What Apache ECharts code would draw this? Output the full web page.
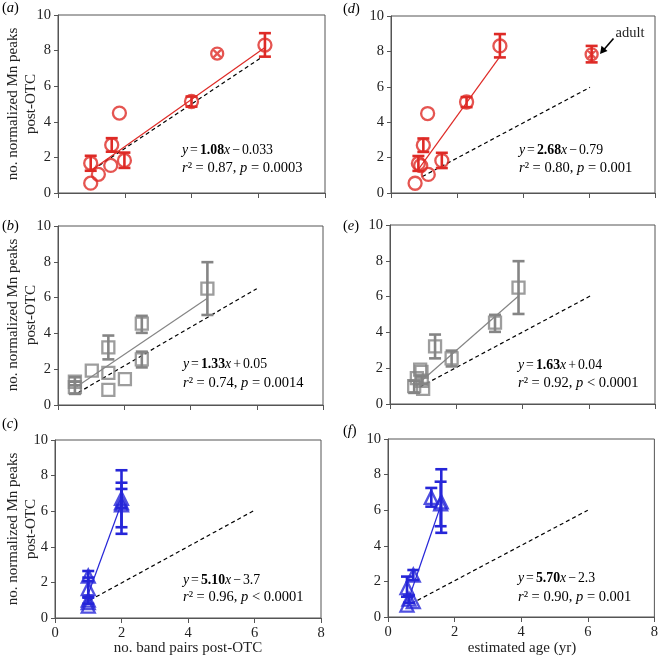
<!DOCTYPE html>
<html><head><meta charset="utf-8">
<script src="https://cdn.jsdelivr.net/npm/echarts@6/dist/echarts.min.js"></script>
<style>html,body{margin:0;padding:0;background:#fff}#c{width:661px;height:659px}</style>
</head><body><div id="c"></div>
<script>
// ---------- data ----------
const xTicks = [0, 2, 4, 6, 8];
const yTicks = [0, 2, 4, 6, 8, 10];

// red circles (panels a, d)
const redY  = [0.55, 1.67, 1.05, 1.55, 2.70, 1.83, 4.49, 5.14, 8.31];
const redLo = [null, 1.25, null, null, 2.32, 1.41, null, 4.85, 7.66];
const redHi = [null, 2.09, null, null, 3.08, 2.27, null, 5.42, 8.98];
const aX    = [0.98, 0.98, 1.21, 1.58, 1.61, 1.99, 1.84, 4.00, 6.20];
const dX    = [0.73, 0.83, 1.13, 0.90, 0.98, 1.54, 1.11, 2.29, 3.30];
const adultY = 7.83, adultLo = 7.38, adultHi = 8.31;
const adultXa = 4.77, adultXd = 6.08;
const aFit = [[1.00, 1.28], [6.20, 8.17]];
const aRef = [[1.06, 1.33], [6.10, 7.62]];
const dFit = [[0.83, 1.34], [3.30, 7.70]];
const dRef = [[0.95, 0.93], [6.03, 5.97]];

// grey squares (panels b, e)
const greyY  = [1.30, 1.00, 1.92, 3.22, 1.80, 0.84, 1.44, 2.55, 4.55, 6.50];
const greyLo = [1.10, 0.62, null, 2.55, null, null, null, 2.10, 4.03, 5.03];
const greyHi = [1.55, 1.30, null, 3.88, null, null, null, 2.98, 4.98, 7.98];
const bX     = [0.51, 0.51, 1.02, 1.52, 1.52, 1.52, 2.02, 2.53, 2.53, 4.51];
const eX     = [0.96, 0.73, 0.91, 1.36, 0.95, 1.00, 0.81, 1.86, 3.17, 3.88];
const bFit = [[0.56, 1.02], [4.51, 5.96]];
const bRef = [[0.61, 0.69], [6.00, 6.50]];
const eFit = [[0.80, 1.05], [3.88, 6.03]];
const eRef = [[0.90, 0.95], [6.05, 6.04]];

// blue triangles (panels c, f)
const blueY  = [2.36, 1.65, 1.00, 0.86, 0.67, 6.72, 6.47, 6.35];
const blueLo = [2.08, 1.14, 0.80, null, null, 6.20, 4.73, 5.10];
const blueHi = [2.64, 2.27, 1.20, null, null, 7.25, 8.30, 7.60];
const cX     = [1, 1, 1, 1, 1, 2, 2, 2];
const fX     = [0.76, 0.57, 0.63, 0.76, 0.57, 1.30, 1.60, 1.58];
const cFit = [[1.00, 1.35], [2.00, 6.45]];
const cRef = [[1.05, 1.00], [6.00, 6.05]];
const fFit = [[0.60, 0.90], [1.60, 6.35]];
const fRef = [[0.70, 0.75], [6.00, 6.00]];

const eqText = {
  a: ['1.08', '−', '0.033', '0.87', '= 0.0003'],
  d: ['2.68', '−', '0.79',  '0.80', '= 0.001'],
  b: ['1.33', '+', '0.05',  '0.74', '= 0.0014'],
  e: ['1.63', '+', '0.04',  '0.92', '< 0.0001'],
  c: ['5.10', '−', '3.7',   '0.96', '< 0.0001'],
  f: ['5.70', '−', '2.3',   '0.90', '= 0.001']
};
const yTitle = 'no. normalized Mn peaks\npost-OTC';
const xTitleLeft = 'no. band pairs post-OTC';
const xTitleRight = 'estimated age (yr)';

// ---------- layout ----------
const FONT = 'Liberation Serif';
const RED = '#de2a26', GREY = '#858585', BLUE = '#2626d8';
const grids = [
  {left: 58,  top: 15,  width: 267, height: 178}, // a
  {left: 391, top: 16,  width: 264, height: 177}, // d
  {left: 58,  top: 226, width: 265, height: 179}, // b
  {left: 390, top: 225, width: 265, height: 179}, // e
  {left: 55,  top: 440, width: 266, height: 178}, // c
  {left: 388, top: 439, width: 268, height: 178}  // f
];

const xAxes = grids.map((g, i) => ({
  type: 'value', gridIndex: i, min: xTicks[0], max: xTicks[xTicks.length - 1], interval: 2,
  axisLine: {show: true, lineStyle: {color: '#555', width: 1}},
  axisTick: {show: true, inside: false, length: 5, lineStyle: {color: '#555'}},
  splitLine: {show: false},
  axisLabel: {show: i >= 4, fontFamily: FONT, fontSize: 14.5, color: '#222', margin: 8}
}));
const yAxes = grids.map((g, i) => ({
  type: 'value', gridIndex: i, min: yTicks[0], max: yTicks[yTicks.length - 1], interval: 2,
  axisLine: {show: true, lineStyle: {color: '#555', width: 1}},
  axisTick: {show: true, inside: false, length: 4, lineStyle: {color: '#555'}},
  splitLine: {show: false},
  axisLabel: {show: true, fontFamily: FONT, fontSize: 14.5, color: '#222', margin: 7}
}));

function zip(xs, ys) { return xs.map((x, k) => [x, ys[k]]); }
function errData(xs, lo, hi) {
  const out = [];
  xs.forEach((x, k) => { if (lo[k] != null) out.push([x, lo[k], hi[k]]); });
  return out;
}
function errSeries(idx, data, color) {
  return {
    type: 'custom', xAxisIndex: idx, yAxisIndex: idx, data: data, z: 3,
    encode: {x: 0, y: [1, 2]},
    renderItem: function (params, api) {
      const x = api.value(0);
      const p1 = api.coord([x, api.value(1)]);
      const p2 = api.coord([x, api.value(2)]);
      const w = 6;
      const st = {stroke: color, lineWidth: 2.6};
      return {type: 'group', children: [
        {type: 'line', shape: {x1: p1[0], y1: p1[1], x2: p2[0], y2: p2[1]}, style: st},
        {type: 'line', shape: {x1: p1[0] - w, y1: p1[1], x2: p1[0] + w, y2: p1[1]}, style: st},
        {type: 'line', shape: {x1: p2[0] - w, y1: p2[1], x2: p2[0] + w, y2: p2[1]}, style: st}
      ]};
    }
  };
}
function markerSeries(idx, data, color, symbol, size) {
  return {
    type: 'scatter', xAxisIndex: idx, yAxisIndex: idx, data: data, symbol: symbol, symbolSize: size, z: 4,
    itemStyle: {color: 'rgba(0,0,0,0)', borderColor: color, borderWidth: 2.3}
  };
}
function lineSeries(idx, data, color, dashed) {
  return {
    type: 'line', xAxisIndex: idx, yAxisIndex: idx, data: data, symbol: 'none', z: 2,
    lineStyle: {color: color, width: 1.2, type: dashed ? [4, 3] : 'solid'}
  };
}
const CROSS = 'path://M0,-10A10,10 0 1,1 0,10A10,10 0 1,1 0,-10M-7,-7L7,7M7,-7L-7,7';

const series = [
  // a
  lineSeries(0, aRef, '#000', true), lineSeries(0, aFit, RED, false),
  errSeries(0, errData(aX, redLo, redHi), RED), markerSeries(0, zip(aX, redY), RED, 'circle', 13),
  markerSeries(0, [[adultXa, adultY]], RED, CROSS, 12),
  // d
  lineSeries(1, dRef, '#000', true), lineSeries(1, dFit, RED, false),
  errSeries(1, errData(dX, redLo, redHi).concat([[adultXd, adultLo, adultHi]]), RED),
  markerSeries(1, zip(dX, redY), RED, 'circle', 13),
  markerSeries(1, [[adultXd, adultY]], RED, CROSS, 12),
  // b
  lineSeries(2, bRef, '#000', true), lineSeries(2, bFit, GREY, false),
  errSeries(2, errData(bX, greyLo, greyHi), GREY), markerSeries(2, zip(bX, greyY), GREY, 'rect', 12),
  // e
  lineSeries(3, eRef, '#000', true), lineSeries(3, eFit, GREY, false),
  errSeries(3, errData(eX, greyLo, greyHi), GREY), markerSeries(3, zip(eX, greyY), GREY, 'rect', 12),
  // c
  lineSeries(4, cRef, '#000', true), lineSeries(4, cFit, BLUE, false),
  errSeries(4, errData(cX, blueLo, blueHi), BLUE), markerSeries(4, zip(cX, blueY), BLUE, 'triangle', 13),
  // f
  lineSeries(5, fRef, '#000', true), lineSeries(5, fFit, BLUE, false),
  errSeries(5, errData(fX, blueLo, blueHi), BLUE), markerSeries(5, zip(fX, blueY), BLUE, 'triangle', 13)
];

// ---------- text ----------
const rich = {
  n: {fontFamily: FONT, fontSize: 14.5, color: '#222'},
  i: {fontFamily: FONT, fontSize: 14.5, color: '#222', fontStyle: 'italic'},
  b: {fontFamily: FONT, fontSize: 14.5, color: '#222', fontWeight: 'bold'},
  n1: {fontFamily: FONT, fontSize: 13.8, color: '#222'},
  i1: {fontFamily: FONT, fontSize: 13.8, color: '#222', fontStyle: 'italic'},
  b1: {fontFamily: FONT, fontSize: 13.8, color: '#222', fontWeight: 'bold'},
  op: {fontFamily: FONT, fontSize: 13.8, color: '#222', padding: [0, 2, 0, 2]}
};
function eqGraphic(key, x, y1, y2) {
  const t = eqText[key];
  return [
    {type: 'text', left: x, top: y1, style: {
      text: '{i1|y}{op|=}{b1|' + t[0] + '}{i1|x}{op|' + t[1] + '}{n1|' + t[2] + '}', rich: rich}},
    {type: 'text', left: x, top: y2, style: {text: '{i|r}{n|² = ' + t[3] + ', }{i|p}{n| ' + t[4] + '}', rich: rich}}
  ];
}
function panelLabel(letter, x, y) {
  return {type: 'text', left: x, top: y, style: {text: '{n|(}{i|' + letter + '}{n|)}', rich: rich}};
}
function yTitleG(cy) {
  return {type: 'text', x: 22, y: cy, rotation: Math.PI / 2,
    style: {text: yTitle, fontFamily: FONT, fontSize: 15, fill: '#222', align: 'center', verticalAlign: 'middle', lineHeight: 18}};
}

const graphic = [].concat(
  eqGraphic('a', 182, 143, 161), eqGraphic('d', 519, 143, 161),
  eqGraphic('b', 183, 357, 376), eqGraphic('e', 518, 358, 376),
  eqGraphic('c', 183, 573, 590), eqGraphic('f', 518, 571, 590),
  [
    panelLabel('a', 2, 1), panelLabel('d', 343, 2),
    panelLabel('b', 2, 219), panelLabel('e', 343, 219),
    panelLabel('c', 2, 417), panelLabel('f', 343, 424),
    yTitleG(104), yTitleG(315), yTitleG(529),
    {type: 'text', x: 188, y: 648, style: {text: xTitleLeft, fontFamily: FONT, fontSize: 15, fill: '#222', align: 'center', verticalAlign: 'middle'}},
    {type: 'text', x: 522, y: 648, style: {text: xTitleRight, fontFamily: FONT, fontSize: 15, fill: '#222', align: 'center', verticalAlign: 'middle'}},
    {type: 'text', x: 630, y: 33, style: {text: 'adult', fontFamily: FONT, fontSize: 14.5, fill: '#222', align: 'center', verticalAlign: 'middle'}},
    {type: 'line', shape: {x1: 613.5, y1: 38.5, x2: 604, y2: 49.5}, style: {stroke: '#000', lineWidth: 1.6}},
    {type: 'polygon', shape: {points: [[600, 54], [607.5, 51], [601.5, 45.8]]}, style: {fill: '#000'}}
  ]
);

const chart = echarts.init(document.getElementById('c'), null, {renderer: 'canvas'});
chart.setOption({
  animation: false,
  backgroundColor: '#fff',
  grid: grids.map(g => Object.assign({show: true, borderColor: '#555', borderWidth: 1, backgroundColor: 'transparent'}, g)),
  xAxis: xAxes,
  yAxis: yAxes,
  series: series,
  graphic: graphic
});
</script></body></html>
